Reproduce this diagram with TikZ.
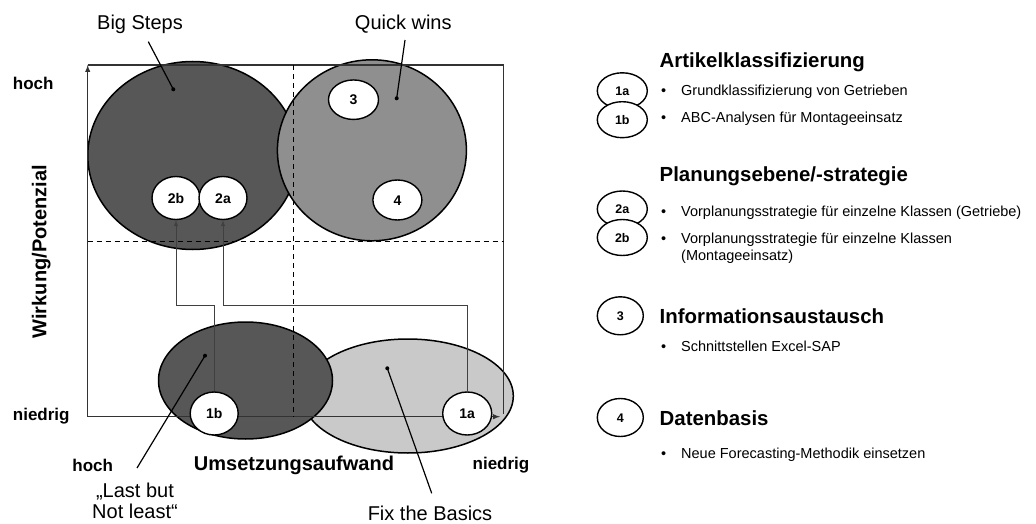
\documentclass[tikz,border=0pt]{standalone}
\usepackage{fontspec}
\setmainfont{Liberation Sans}
\usetikzlibrary{shapes.geometric}

\begin{document}
\begin{tikzpicture}[x=1pt, y=-1pt,
		zone/.style={ellipse, draw, line width=1.5pt, inner sep=0pt},
		tag/.style={ellipse, draw, fill=white, line width=1.4pt, inner sep=0pt, text height=10pt, text depth=0pt, minimum width=48pt, minimum height=43pt, font=\bfseries\fontsize{14}{16}\selectfont},
		legendtag/.style={tag, text height=9pt, minimum width=50pt, minimum height=36pt, font=\bfseries\fontsize{12.5}{14}\selectfont},
		axisline/.style={line width=1.4pt, draw=black!80},
		divider/.style={line width=1pt, dash pattern=on 5pt off 4pt},
		link/.style={line width=1pt, draw=black!75},
		pointer/.style={line width=1.2pt},
		head/.style={anchor=west, inner sep=0pt, font=\bfseries\fontsize{20.4}{24}\selectfont},
		item/.style={anchor=west, inner sep=0pt, align=left, font=\fontsize{14.5}{16.7}\selectfont},
		note/.style={inner sep=0pt, align=center, font=\fontsize{20}{21}\selectfont},
		scaletext/.style={inner sep=0pt, font=\bfseries\fontsize{17}{20}\selectfont},
		axistitle/.style={inner sep=0pt, font=\bfseries\fontsize{20}{22}\selectfont}]
		\useasboundingbox (0,0) rectangle (1036,524);
		
		\coordinate (O) at (87.7, 416.7);
		\coordinate (Y) at (87.7, 65);
		\coordinate (X) at (500, 416.7);
		\coordinate (TR) at (503.5, 65);
		\coordinate (BR) at (503.5, 414);
		\coordinate (bend) at (0, 305);
		
		\node[zone, fill=black!66, minimum width=210pt, minimum height=188pt] (big) at (192.8, 155.5) {};
		\node[zone, fill=black!44, minimum width=189pt, minimum height=181pt] (quick) at (371.9, 150.3) {};
		\node[zone, fill=black!21, minimum width=211pt, minimum height=114pt] (basics) at (407.8, 396) {};
		\node[zone, fill=black!66, minimum width=174pt, minimum height=117pt] (last) at (245.5, 380.5) {};
		
		\draw[axisline, -latex] (O) -- (Y);
		\draw[axisline, -latex] (O) -- (X);
		\draw[axisline] (Y) -- (TR) -- (BR);
		\draw[divider] (293.5, 65) -- (293.5, 416.7);
		\draw[divider] (87.7, 241.5) -- (503.5, 241.5);
		
		\node[tag] (t2b) at (176, 198) {2b};
		\node[tag] (t2a) at (223, 198) {2a};
		\node[tag, minimum width=50pt, minimum height=39.5pt] (t3) at (353.5, 99.7) {3};
		\node[tag, minimum width=49pt, minimum height=40pt] (t4) at (397.4, 200) {4};
		\node[tag] (t1b) at (214.2, 413.5) {1b};
		\node[tag, minimum width=49pt] (t1a) at (467.2, 413.5) {1a};
		
		\draw[link, -latex] (t1b.north) |- (t2b.south |- bend) -- (t2b.south);
		\draw[link, -latex] (t1a.north) |- (t2a.south |- bend) -- (t2a.south);
		
		% pointers from the labels into the fields
		\coordinate (bigtip) at (148.3, 41.7);
		\coordinate (bigdot) at (173.3, 89.3);
		\coordinate (quicktip) at (405, 40);
		\coordinate (quickdot) at (396.7, 98.3);
		\coordinate (lasttip) at (137, 468);
		\coordinate (lastdot) at (205, 355.7);
		\coordinate (basicstip) at (431.7, 493.3);
		\coordinate (basicsdot) at (387.3, 368.3);
		\foreach \s/\t in {bigtip/bigdot, quicktip/quickdot, lasttip/lastdot, basicstip/basicsdot} {
			\draw[pointer] (\s) -- (\t);
			\fill (\t) circle (2pt);
		}
		
		\node[note] (bigtxt) at (140, 24) {Big Steps};
		\node[note] (quicktxt) at (403.3, 24) {Quick wins};
		\node[note] (lasttxt) at (135, 500.5) {„Last but\\Not least“};
		\node[note] (basicstxt) at (430, 513) {Fix the Basics};
		
		\node[scaletext, anchor=west] (yhigh) at (12.7, 83) {hoch};
		\node[scaletext, anchor=west] (ylow) at (12.7, 416) {niedrig};
		\node[scaletext] (xhigh) at (92.7, 465) {hoch};
		\node[scaletext] (xlow) at (501, 465) {niedrig};
		\node[axistitle] (xtitle) at (294, 465) {Umsetzungsaufwand};
		\node[axistitle, rotate=90] (ytitle) at (41.3, 251.7) {Wirkung/Potenzial};
		
		% legend
		\node[legendtag] (k1a) at (622.3, 90.8) {1a};
		\node[legendtag] (k1b) at (622.3, 119.7) {1b};
		\node[legendtag] (k2a) at (622.3, 209) {2a};
		\node[legendtag] (k2b) at (622.3, 237.5) {2b};
		\node[legendtag, minimum width=46pt, minimum height=38pt] (k3) at (620.3, 315.8) {3};
		\node[legendtag, minimum width=46pt, minimum height=38pt] (k4) at (620.3, 417.5) {4};
		
		\node[head] (h1) at (659.5, 62) {Artikelklassifizierung};
		\node[item] (i1) at (661, 91.7) {\makebox[20pt][l]{•}Grundklassifizierung von Getrieben};
		\node[item] (i2) at (661, 118.3) {\makebox[20pt][l]{•}ABC-Analysen für Montageeinsatz};
		\node[head] (h2) at (659.5, 176) {Planungsebene/-strategie};
		\node[item] (i3) at (661, 212.7) {\makebox[20pt][l]{•}Vorplanungsstrategie für einzelne Klassen (Getriebe)};
		\node[item] (i4) at (661, 248.3) {\makebox[20pt][l]{•}Vorplanungsstrategie für einzelne Klassen\\\hspace*{20pt}(Montageeinsatz)};
		\node[head] (h3) at (659.5, 316.7) {Informationsaustausch};
		\node[item] (i5) at (661, 346.7) {\makebox[20pt][l]{•}Schnittstellen Excel-SAP};
		\node[head] (h4) at (659.5, 418.3) {Datenbasis};
		\node[item] (i6) at (661, 455) {\makebox[20pt][l]{•}Neue Forecasting-Methodik einsetzen};
	
	\end{tikzpicture}
\end{document}
